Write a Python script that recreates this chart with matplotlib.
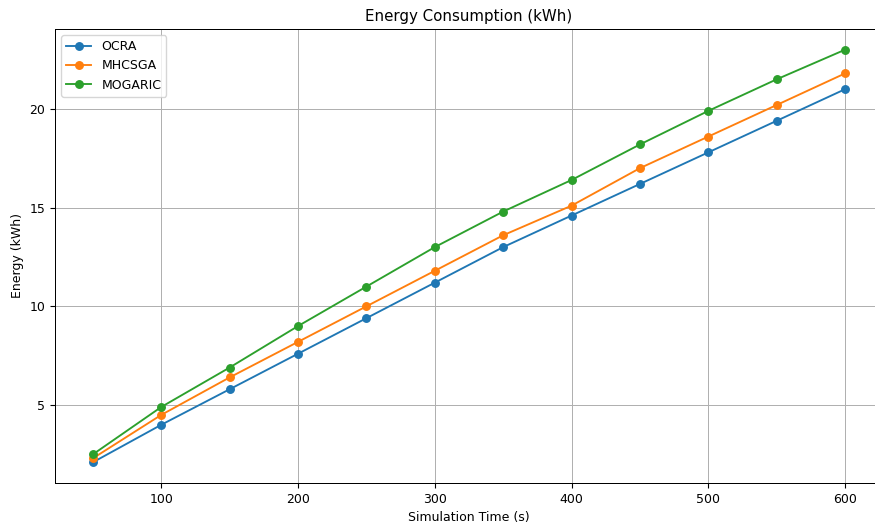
import matplotlib
matplotlib.use("Agg")
import matplotlib.pyplot as plt

times = [50, 100, 150, 200, 250, 300, 350, 400, 450, 500, 550, 600]
ocra = [2.1, 4.0, 5.8, 7.6, 9.4, 11.2, 13.0, 14.6, 16.2, 17.8, 19.4, 21.0]
mhcsga = [2.3, 4.5, 6.4, 8.2, 10.0, 11.8, 13.6, 15.1, 17.0, 18.6, 20.2, 21.8]
mogaric = [2.5, 4.9, 6.9, 9.0, 11.0, 13.0, 14.8, 16.4, 18.2, 19.9, 21.5, 23.0]

s = 0.9
plt.rcParams['font.size'] = 10 * s
plt.rcParams['axes.titlesize'] = 12 * s
plt.rcParams['lines.linewidth'] = 1.5 * s
plt.rcParams['lines.markersize'] = 6 * s
plt.rcParams['axes.linewidth'] = 0.8 * s
plt.rcParams['grid.linewidth'] = 0.8 * s

fig, ax = plt.subplots(figsize=(8.75, 5.27), dpi=100)
ax.plot(times, ocra, marker='o', label='OCRA')
ax.plot(times, mhcsga, marker='o', label='MHCSGA')
ax.plot(times, mogaric, marker='o', label='MOGARIC')
ax.set_title('Energy Consumption (kWh)')
ax.set_xlabel('Simulation Time (s)')
ax.set_ylabel('Energy (kWh)')
ax.legend(loc='upper left')
ax.grid(True)
fig.subplots_adjust(left=0.063, right=1.009, top=0.945, bottom=0.0835)
fig.savefig('out.png', dpi=100)
